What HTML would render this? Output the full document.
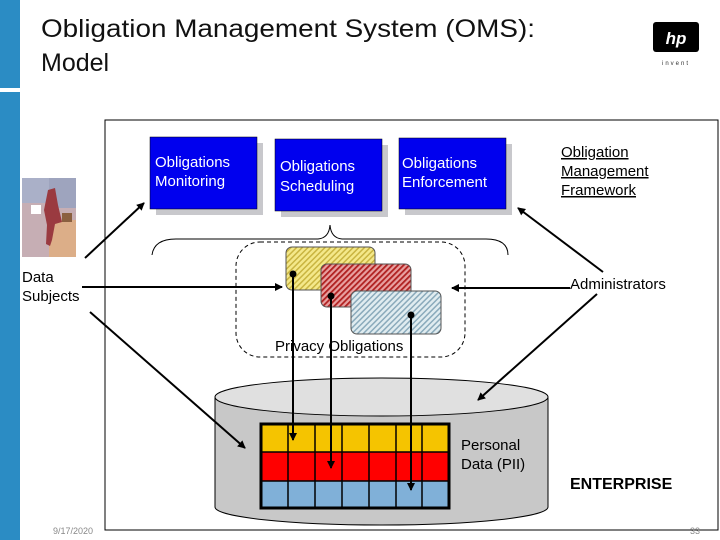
<!DOCTYPE html>
<html><head><meta charset="utf-8"><style>
html,body{margin:0;padding:0;background:#fff;}
svg{display:block;font-family:"Liberation Sans",Arial,sans-serif;}
</style></head><body>
<svg width="720" height="540" viewBox="0 0 720 540" xmlns="http://www.w3.org/2000/svg">
<defs>
<marker id="ah" markerWidth="8" markerHeight="8" refX="7" refY="4" orient="auto" markerUnits="userSpaceOnUse"><path d="M0,0 L8,4 L0,8 Z" fill="#000"/></marker>
<pattern id="py" width="4" height="4" patternUnits="userSpaceOnUse" patternTransform="rotate(45)"><rect width="4" height="4" fill="#f4e88a"/><rect width="1.5" height="4" fill="#c9b440"/></pattern>
<pattern id="pr" width="4" height="4" patternUnits="userSpaceOnUse" patternTransform="rotate(45)"><rect width="4" height="4" fill="#e8a0a0"/><rect width="1.8" height="4" fill="#b02020"/></pattern>
<pattern id="pb" width="4" height="4" patternUnits="userSpaceOnUse" patternTransform="rotate(45)"><rect width="4" height="4" fill="#e0ecf0"/><rect width="1.5" height="4" fill="#8aaabb"/></pattern>
</defs>
<rect x="0" y="0" width="20" height="88" fill="#2b8cc4"/>
<rect x="0" y="92" width="20" height="448" fill="#2b8cc4"/>
<text x="41" y="37" font-size="25" fill="#111" textLength="494" lengthAdjust="spacingAndGlyphs">Obligation Management System (OMS):</text>
<text x="41" y="71" font-size="25" fill="#111">Model</text>
<rect x="653" y="22" width="46" height="30" rx="3" fill="#000"/>
<text x="676" y="44" font-size="17" font-style="italic" font-weight="bold" fill="#fff" text-anchor="middle">hp</text>
<text x="676" y="65" font-size="6" letter-spacing="2" fill="#333" text-anchor="middle">invent</text>
<rect x="105" y="120" width="613" height="410" fill="none" stroke="#000" stroke-width="1"/>
<!-- woman -->
<rect x="22" y="178" width="54" height="79" fill="#c6aeb4"/>
<rect x="22" y="178" width="27" height="25" fill="#aab0c8"/>
<rect x="49" y="178" width="27" height="30" fill="#9ea4be"/>
<rect x="49" y="220" width="27" height="37" fill="#dcae88"/>
<path d="M48 190 L55 188 L58 205 L62 222 L55 224 L52 240 L50 246 L46 244 L47 225 L44 210 Z" fill="#9a3a40"/>
<rect x="31" y="205" width="10" height="9" fill="#fff"/>
<rect x="62" y="213" width="10" height="9" fill="#8a6040"/>
<!-- top boxes -->
<rect x="156" y="143" width="107" height="72" fill="#c8c8cc"/>
<rect x="150" y="137" width="107" height="72" fill="#0000ee" stroke="#000" stroke-width="0.5"/>
<text x="155" y="167" font-size="15" fill="#fff">Obligations</text>
<text x="155" y="186" font-size="15" fill="#fff">Monitoring</text>
<rect x="281" y="145" width="107" height="72" fill="#c8c8cc"/>
<rect x="275" y="139" width="107" height="72" fill="#0000ee" stroke="#000" stroke-width="0.5"/>
<text x="280" y="171" font-size="15" fill="#fff">Obligations</text>
<text x="280" y="191" font-size="15" fill="#fff">Scheduling</text>
<rect x="405" y="144" width="107" height="71" fill="#c8c8cc"/>
<rect x="399" y="138" width="107" height="71" fill="#0000ee" stroke="#000" stroke-width="0.5"/>
<text x="402" y="168" font-size="15" fill="#fff">Obligations</text>
<text x="402" y="187" font-size="15" fill="#fff">Enforcement</text>
<text x="561" y="157" font-size="15" text-decoration="underline">Obligation</text>
<text x="561" y="176" font-size="15" text-decoration="underline">Management</text>
<text x="561" y="195" font-size="15" text-decoration="underline">Framework</text>
<!-- brace -->
<path d="M152 255 Q154 239 176 239 L318 239 Q329 238 330 225 Q331 238 342 239 L486 239 Q508 239 508 255" fill="none" stroke="#000" stroke-width="1"/>
<!-- dashed rounded rect -->
<rect x="236" y="242" width="229" height="115" rx="24" fill="none" stroke="#000" stroke-dasharray="4,3"/>
<rect x="286" y="247" width="89" height="43" rx="6" fill="url(#py)" stroke="#555"/>
<rect x="321" y="264" width="90" height="43" rx="6" fill="url(#pr)" stroke="#555"/>
<rect x="351" y="291" width="90" height="43" rx="6" fill="url(#pb)" stroke="#555"/>
<text x="275" y="351" font-size="15" fill="#000">Privacy Obligations</text>
<!-- cylinder -->
<path d="M215 398 L215 507 A166.5 18 0 0 0 548 507 L548 398 Z" fill="#c8c8c8" stroke="#000"/>
<ellipse cx="381.5" cy="397" rx="166.5" ry="19" fill="#e0e0e0" stroke="#000"/>
<rect x="261" y="424" width="188" height="28" fill="#f5c400"/>
<rect x="261" y="452" width="188" height="29" fill="#ff0000"/>
<rect x="261" y="481" width="188" height="27" fill="#80b0d8"/>
<g stroke="#000" stroke-width="1.5">
<line x1="288" y1="424" x2="288" y2="508"/><line x1="315" y1="424" x2="315" y2="508"/><line x1="342" y1="424" x2="342" y2="508"/><line x1="369" y1="424" x2="369" y2="508"/><line x1="396" y1="424" x2="396" y2="508"/><line x1="422" y1="424" x2="422" y2="508"/>
<line x1="261" y1="452" x2="449" y2="452"/><line x1="261" y1="481" x2="449" y2="481"/>
</g>
<rect x="261" y="424" width="188" height="84" fill="none" stroke="#000" stroke-width="3"/>
<text x="461" y="450" font-size="15">Personal</text>
<text x="461" y="469" font-size="15">Data (PII)</text>
<text x="570" y="489" font-size="16" font-weight="bold">ENTERPRISE</text>
<text x="22" y="282" font-size="15">Data</text>
<text x="22" y="301" font-size="15">Subjects</text>
<text x="570" y="289" font-size="15">Administrators</text>
<!-- arrows -->
<g stroke="#000" stroke-width="2" fill="none" marker-end="url(#ah)">
<line x1="85" y1="258" x2="144" y2="203"/>
<line x1="82" y1="287" x2="282" y2="287"/>
<line x1="90" y1="312" x2="245" y2="448"/>
<line x1="603" y1="272" x2="518" y2="208"/>
<line x1="570" y1="288" x2="452" y2="288"/>
<line x1="597" y1="294" x2="478" y2="400"/>
<line x1="293" y1="274" x2="293" y2="440"/>
<line x1="331" y1="296" x2="331" y2="468"/>
<line x1="411" y1="315" x2="411" y2="490"/>
</g>
<circle cx="293" cy="274" r="3.5"/><circle cx="331" cy="296" r="3.5"/><circle cx="411" cy="315" r="3.5"/>
<text x="53" y="534" font-size="9" fill="#888">9/17/2020</text>
<text x="690" y="534" font-size="9" fill="#888">33</text>
</svg>
</body></html>
